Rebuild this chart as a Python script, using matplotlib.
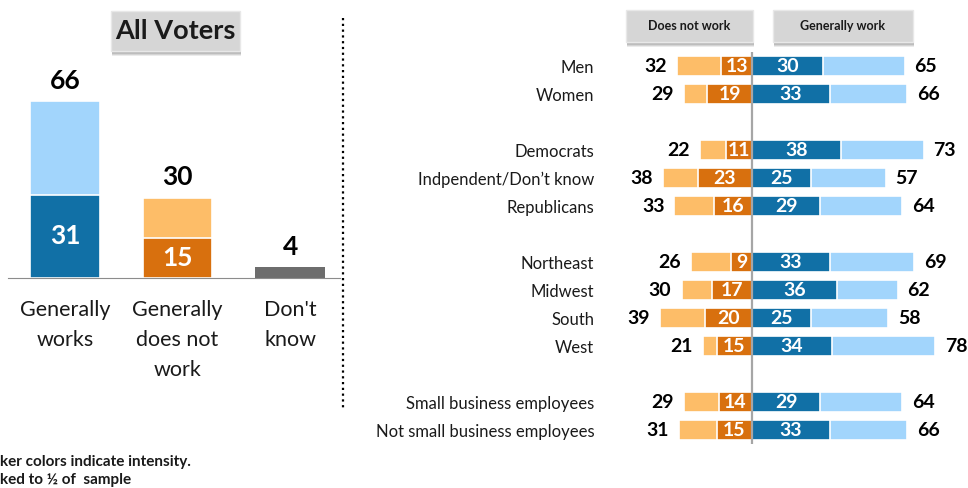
import matplotlib
matplotlib.use('Agg')
import matplotlib.pyplot as plt
from matplotlib.patches import Rectangle
from matplotlib.lines import Line2D

plt.rcParams['font.family'] = ['Lato', 'DejaVu Sans']

# overall question
overall_labels = ['Generally\nworks', 'Generally\ndoes not\nwork', "Don't\nknow"]
overall_total = [66, 30, 4]
overall_strong = [31, 15, None]

# subgroups
groups = ['Men', 'Women', 'Democrats', 'Indpendent/Don\u2019t know', 'Republicans',
          'Northeast', 'Midwest', 'South', 'West',
          'Small business employees', 'Not small business employees']
rows = [0, 1, 3, 4, 5, 7, 8, 9, 10, 12, 13]
not_total = [32, 29, 22, 38, 33, 26, 30, 39, 21, 29, 31]
not_strong = [13, 19, 11, 23, 16, 9, 17, 20, 15, 14, 15]
work_strong = [30, 33, 38, 25, 29, 33, 36, 25, 34, 29, 33]
work_total = [65, 66, 73, 57, 64, 69, 62, 58, 78, 64, 66]

light_blue = '#a2d5fc'
dark_blue = '#1170a6'
light_orange = '#fdbd68'
dark_orange = '#d8700e'
dk_gray = '#6d6d6d'

W, H = 968, 488
fig = plt.figure(figsize=(W / 100, H / 100), dpi=100)


def px_box(x0, y0, x1, y1):
    # pixel box (top-left origin) -> figure fraction [l, b, w, h]
    return [x0 / W, 1 - y1 / H, (x1 - x0) / W, (y1 - y0) / H]


def header(x0, y0, x1, y1, text, size):
    l, b, w, h = px_box(x0, y0, x1, y1)
    for k, a in [(5, 0.15), (4, 0.2), (3, 0.25)]:
        fig.patches.append(Rectangle((l + 1 / W, b - k / H), w, h, transform=fig.transFigure,
                                     facecolor='#7a7a7a', edgecolor='none', alpha=a, zorder=1))
    fig.patches.append(Rectangle((l, b), w, h, transform=fig.transFigure,
                                 facecolor='#d6d6d6', edgecolor='#e8e8e8', lw=1, zorder=2))
    fig.text(l + w / 2, b + h / 2, text, ha='center', va='center', fontsize=size,
             fontweight='bold', color='#1a1a1a', zorder=3)


# ---- left panel: all voters ----
ax = fig.add_axes(px_box(8, 10, 340, 278))
x = [0, 1, 2]
ax.bar(x[:2], overall_total[:2], width=0.62, color=[light_blue, light_orange],
       edgecolor='white', linewidth=1.2)
ax.bar(x[:2], overall_strong[:2], width=0.62, color=[dark_blue, dark_orange],
       edgecolor='white', linewidth=1.2)
ax.bar(x[2], overall_total[2], width=0.62, color=dk_gray)
ax.set_xlim(-0.507, 2.444)
ax.set_ylim(0, 100)
for s in ['top', 'right', 'left']:
    ax.spines[s].set_visible(False)
ax.spines['bottom'].set_color('#8c8c8c')
ax.set_xticks([])
ax.set_yticks([])
for i in x:
    ax.text(i, overall_total[i] + 3.2, str(overall_total[i]), ha='center', va='bottom',
            fontsize=19, fontweight='bold', color='black')
    if overall_strong[i]:
        ax.text(i, overall_strong[i] / 2, str(overall_strong[i]), ha='center', va='center',
                fontsize=19, fontweight='bold', color='white')
    ax.text(i, -8.2, overall_labels[i], ha='center', va='top', fontsize=15.5,
            linespacing=1.62, color='#1a1a1a', clip_on=False)

header(111, 11, 240, 51, 'All Voters', 19.5)

fig.lines.append(Line2D([343 / W, 343 / W], [1 - 18 / H, 1 - 410 / H], transform=fig.transFigure,
                        color='black', lw=1.6, linestyle=(0, (1, 1.6))))

# ---- right panel: subgroups ----
ax2 = fig.add_axes(px_box(611, 52, 964, 444))
bh = 0.68
ax2.barh(rows, [-v for v in not_total], height=bh, color=light_orange, edgecolor='white', lw=1.2)
ax2.barh(rows, [-v for v in not_strong], height=bh, color=dark_orange, edgecolor='white', lw=1.2)
ax2.barh(rows, work_total, height=bh, color=light_blue, edgecolor='white', lw=1.2)
ax2.barh(rows, work_strong, height=bh, color=dark_blue, edgecolor='white', lw=1.2)
ax2.axvline(0, color='#a6a6a6', lw=1.6, zorder=5)
ax2.set_xlim(-60, 90.2)
ax2.set_ylim(13.5, -0.5)
for s in ax2.spines.values():
    s.set_visible(False)
ax2.set_xticks([])
ax2.set_yticks(rows, groups, fontsize=12, color='#1a1a1a')
ax2.tick_params(axis='y', length=0, pad=12)

for r, nt, ns, ws, wt in zip(rows, not_total, not_strong, work_strong, work_total):
    ax2.text(-nt - 4.3, r, str(nt), ha='right', va='center', fontsize=14,
             fontweight='bold', color='black')
    ax2.text(wt + 4.1, r, str(wt), ha='left', va='center', fontsize=14,
             fontweight='bold', color='black')
    ax2.text(-ns / 2, r, str(ns), ha='center', va='center', fontsize=14,
             fontweight='bold', color='white', zorder=6)
    ax2.text(ws / 2, r, str(ws), ha='center', va='center', fontsize=14,
             fontweight='bold', color='white', zorder=6)

header(626, 10, 753, 42, 'Does not work', 9)
header(773, 10, 913, 42, 'Generally work', 9)

# footnote
fig.text(0, 1 - 462 / H, 'ker colors indicate intensity.', ha='left', va='center',
         fontsize=11, fontweight='bold', color='#1a1a1a')
fig.text(0, 1 - 480 / H, 'ked to \u00bd of  sample', ha='left', va='center',
         fontsize=11, fontweight='bold', color='#1a1a1a')

fig.savefig('out.png', dpi=100)
